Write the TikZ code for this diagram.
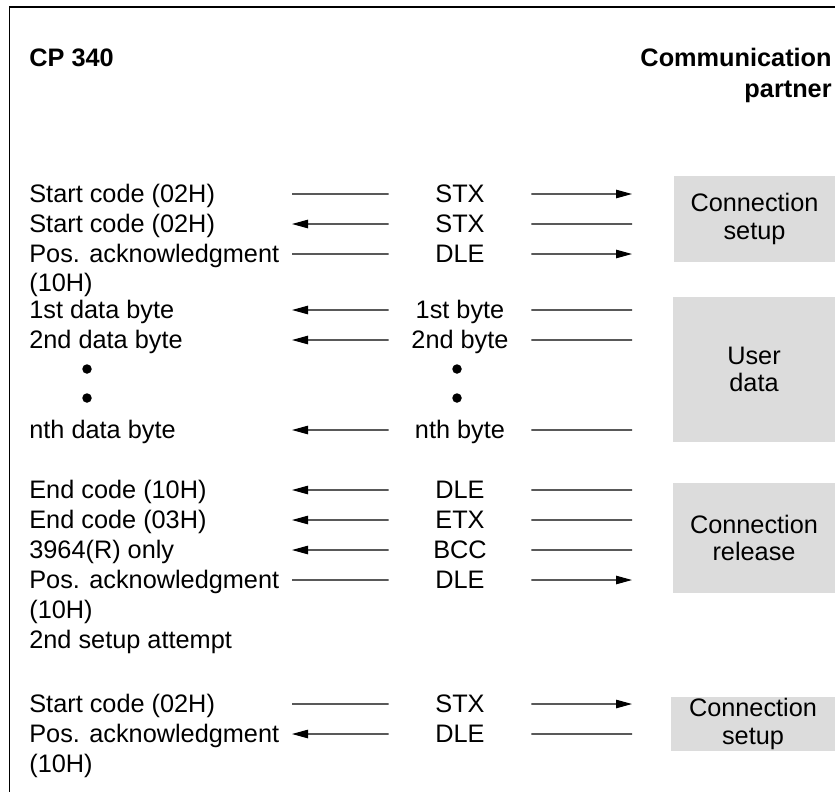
\documentclass[tikz,border=0pt]{standalone}
\usepackage{fontspec}
\setmainfont{Liberation Sans}
\usetikzlibrary{arrows.meta}
\definecolor{boxgray}{HTML}{DCDCDC}

\begin{document}
\begin{tikzpicture}[x=0.02cm, y=-0.02cm,
    every node/.style = {inner sep=0pt, font=\fontsize{14.4}{17}\selectfont},
    txt/.style = {anchor=base west},
    mid/.style = {anchor=base, minimum width=2.84cm, text height=0.32cm, text depth=0pt},
    seg/.style = {line width=0.6pt},
    tip/.style = {seg, -{Triangle[length=0.32cm, width=0.17cm]}},
    gbox/.style = {fill=boxgray, align=center, font=\fontsize{14.4}{15.6}\selectfont},
    dot/.style = {circle, fill, minimum size=0.19cm}]
    \useasboundingbox (0,0) rectangle (835,792);
    % frame
    \draw[line width=0.85pt] (835,7) -- (9.5,7) -- (9.5,792);
    % headings
    \node[txt, font=\bfseries\fontsize{14.4}{17}\selectfont] (cp) at (29,66) {CP 340};
    \node[anchor=north east, align=right, font=\bfseries\fontsize{14.4}{17.6}\selectfont] (partner) at (832,48) {Communication\\partner};
    % phase boxes
    \node[gbox, minimum width=3.22cm, minimum height=1.72cm] (setup1) at (754.5,219) {Connection\\setup};
    \node[gbox, minimum width=3.24cm, minimum height=2.9cm] (user) at (754,369.5) {User\\data};
    \node[gbox, minimum width=3.24cm, minimum height=2.2cm] (release) at (754,538) {Connection\\release};
    \node[gbox, minimum width=3.28cm, minimum height=1.08cm] (setup2) at (753,724) {Connection\\setup};
    % left column
    \node[txt] (t1) at (29,202) {Start code (02H)};
    \node[txt] (t2) at (29,232) {Start code (02H)};
    \node[txt] (t3) at (29,262) {Pos. acknowledgment};
    \node[txt] (t3b) at (29,291) {(10H)};
    \node[txt] (t4) at (29,318) {1st data byte};
    \node[txt] (t5) at (29,348) {2nd data byte};
    \node[dot] (ld1) at (87,369) {};
    \node[dot] (ld2) at (87,398) {};
    \node[txt] (t6) at (29,438) {nth data byte};
    \node[txt] (t7) at (29,498) {End code (10H)};
    \node[txt] (t8) at (29,528) {End code (03H)};
    \node[txt] (t9) at (29,558) {3964(R) only};
    \node[txt] (t10) at (29,588) {Pos. acknowledgment};
    \node[txt] (t10b) at (29,618) {(10H)};
    \node[txt] (t10c) at (29,648) {2nd setup attempt};
    \node[txt] (t11) at (29,712) {Start code (02H)};
    \node[txt] (t12) at (29,742) {Pos. acknowledgment};
    \node[txt] (t12b) at (29,772) {(10H)};
    % middle column
    \node[mid] (m1) at (460,202) {STX};
    \node[mid] (m2) at (460,232) {STX};
    \node[mid] (m3) at (460,262) {DLE};
    \node[mid] (m4) at (460,318) {1st byte};
    \node[mid] (m5) at (460,348) {2nd byte};
    \node[dot] (md1) at (457,369) {};
    \node[dot] (md2) at (457,398) {};
    \node[mid] (m6) at (460,438) {nth byte};
    \node[mid] (m7) at (460,498) {DLE};
    \node[mid] (m8) at (460,528) {ETX};
    \node[mid] (m9) at (460,558) {BCC};
    \node[mid] (m10) at (460,588) {DLE};
    \node[mid] (m11) at (460,712) {STX};
    \node[mid] (m12) at (460,742) {DLE};
    % free ends of the lines
    \coordinate (l1) at (292,194);   \coordinate (r1) at (632,194);
    \coordinate (l2) at (292,224);   \coordinate (r2) at (632,224);
    \coordinate (l3) at (292,254);   \coordinate (r3) at (632,254);
    \coordinate (l4) at (292,310);   \coordinate (r4) at (632,310);
    \coordinate (l5) at (292,340);   \coordinate (r5) at (632,340);
    \coordinate (l6) at (292,430);   \coordinate (r6) at (632,430);
    \coordinate (l7) at (292,490);   \coordinate (r7) at (632,490);
    \coordinate (l8) at (292,520);   \coordinate (r8) at (632,520);
    \coordinate (l9) at (292,550);   \coordinate (r9) at (632,550);
    \coordinate (l10) at (292,580);  \coordinate (r10) at (632,580);
    \coordinate (l11) at (292,704);  \coordinate (r11) at (632,704);
    \coordinate (l12) at (292,734);  \coordinate (r12) at (632,734);
    % CP 340 -> partner
    \draw[seg] (l1) -- (m1.west);  \draw[tip] (m1.east) -- (r1);
    \draw[seg] (l3) -- (m3.west);  \draw[tip] (m3.east) -- (r3);
    \draw[seg] (l10) -- (m10.west); \draw[tip] (m10.east) -- (r10);
    \draw[seg] (l11) -- (m11.west); \draw[tip] (m11.east) -- (r11);
    % partner -> CP 340
    \draw[tip] (m2.west) -- (l2);  \draw[seg] (m2.east) -- (r2);
    \draw[tip] (m4.west) -- (l4);  \draw[seg] (m4.east) -- (r4);
    \draw[tip] (m5.west) -- (l5);  \draw[seg] (m5.east) -- (r5);
    \draw[tip] (m6.west) -- (l6);  \draw[seg] (m6.east) -- (r6);
    \draw[tip] (m7.west) -- (l7);  \draw[seg] (m7.east) -- (r7);
    \draw[tip] (m8.west) -- (l8);  \draw[seg] (m8.east) -- (r8);
    \draw[tip] (m9.west) -- (l9);  \draw[seg] (m9.east) -- (r9);
    \draw[tip] (m12.west) -- (l12); \draw[seg] (m12.east) -- (r12);
\end{tikzpicture}
\end{document}
